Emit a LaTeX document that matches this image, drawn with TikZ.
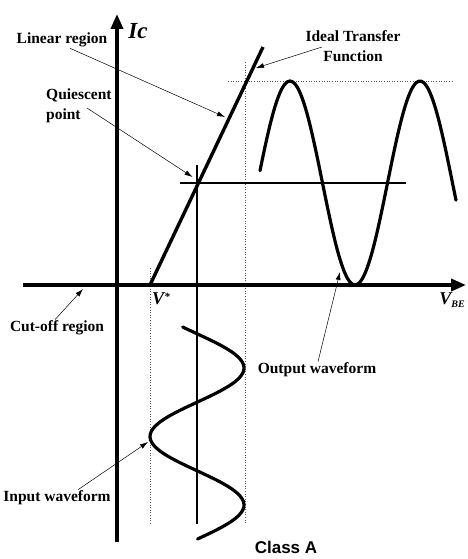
\documentclass[tikz,border=0pt]{standalone}
\usepackage{fontspec}
\setmainfont{Liberation Serif}
\newfontfamily\classfont{Liberation Sans}
\usepackage{tikz}
\usetikzlibrary{arrows.meta, positioning}

\begin{document}
\begin{tikzpicture}[x=1pt, y=-1pt, >=Stealth,
  every node/.style={font=\bfseries\fontsize{15.5}{20}\selectfont, inner sep=1pt},
  axis/.style={line width=3.6pt, -{Triangle[length=15pt,width=12pt]}},
  wave/.style={line width=3.2pt, line cap=round},
  guide/.style={dotted, gray!70!black, line width=0.6pt},
  ptr/.style={-{Latex[length=8pt,width=5pt]}, line width=0.5pt}]

\useasboundingbox (0,0) rectangle (467,559);

% guide lines
\draw[guide] (150,268) -- (150,524);
\draw[guide] (245,62) -- (245,524);
\draw[guide] (228,81) -- (453,81);

% axes
\draw[axis] (117,542) -- (117,14);
\draw[axis] (23,285) -- (466,285);

% transfer function and quiescent point
\coordinate (vstar) at (150,285);
\coordinate (ttop) at (263,47);
\coordinate (Q) at (197.5,183);
\draw[line width=3.4pt] (vstar) -- (ttop);
\draw[line width=1.8pt] (197,165) -- (197,524);
\draw[line width=1.8pt] (180,183) -- (406,183);

% output and input waveforms
\draw[wave] plot[domain=260:456, samples=80, smooth] (\x, {183-102*cos((\x-290)/130*360)});
\draw[wave] plot[domain=327:539, samples=80, smooth] ({197+47*cos((\x-368)/137*360)}, \x);

% labels
\node (ic) at (138,31) {\fontsize{23}{23}\selectfont\itshape Ic};
\node (vbe) at (452,300) {\fontsize{18}{18}\selectfont\itshape V\raisebox{-3pt}{\fontsize{10}{10}\selectfont BE}};
\node (vs) at (161,299) {\fontsize{18}{18}\selectfont\itshape V\raisebox{4pt}{\fontsize{11}{11}\selectfont *}};
\node (lin) at (62,40) {Linear region};
\node[anchor=west, align=left] (qp) at (45,106) {Quiescent\\point};
\node[align=center] (itf) at (353,46) {Ideal Transfer\\Function};
\node (cut) at (57,328) {Cut-off region};
\node (outw) at (317,370) {Output waveform};
\node (inw) at (57,498) {Input waveform};
\node (cls) at (286,547) {\classfont\bfseries\fontsize{17}{17}\selectfont Class A};

% pointers
\coordinate (linend) at (225,117);
\coordinate (qtail) at (87,108);
\coordinate (itftail) at (322,47);
\coordinate (itfend) at (256,68);
\coordinate (cutend) at (83,289);
\coordinate (outend) at (340,272);
\coordinate (inend) at (148,442);
\draw[ptr] ([xshift=8pt]lin.south) -- (linend);
\draw[ptr] (qtail) -- ([shift={(-5pt,6pt)}]Q);
\draw[ptr] (itftail) -- (itfend);
\draw[ptr] ([xshift=-2pt]cut.north) -- (cutend);
\draw[ptr] ([xshift=1pt]outw.north) -- (outend);
\draw[ptr] ([xshift=21pt]inw.north) -- (inend);

\end{tikzpicture}
\end{document}
